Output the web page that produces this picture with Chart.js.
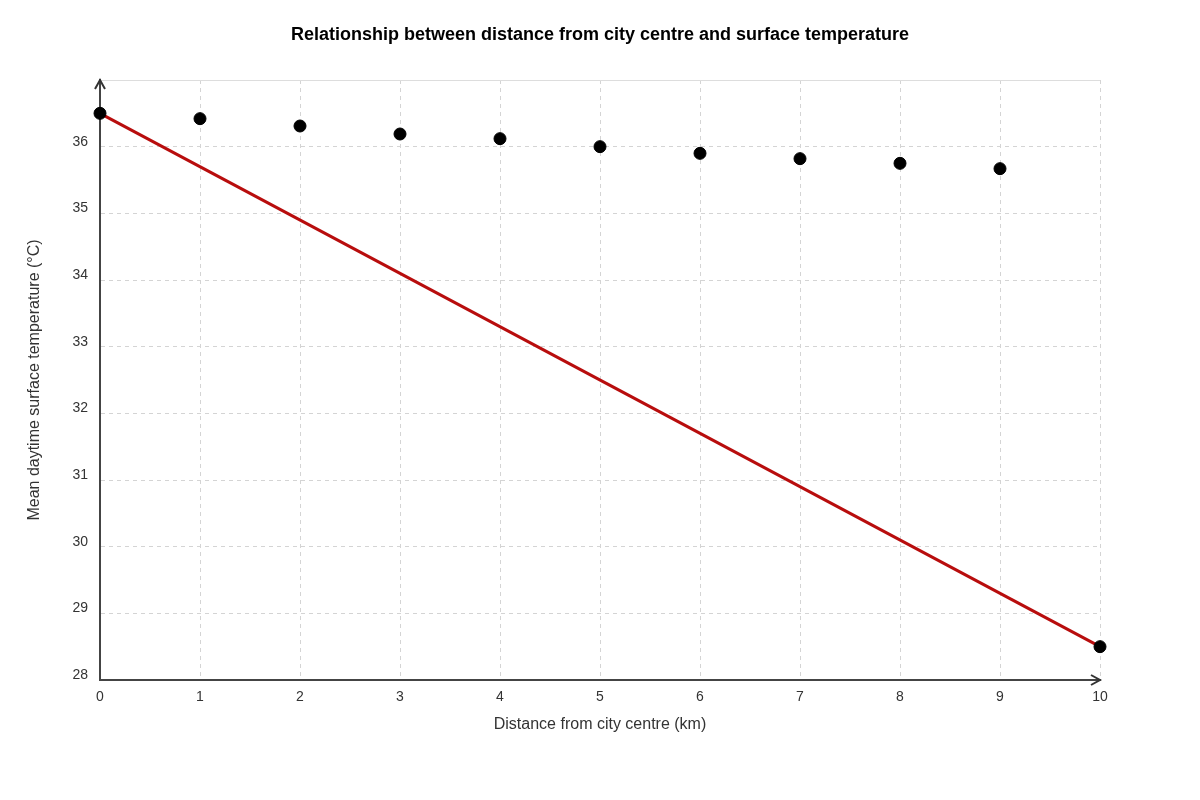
<!DOCTYPE html>
<html>
<head>
<meta charset="utf-8">
<script src="https://cdn.jsdelivr.net/npm/chart.js@4"></script>
<style>
  body { margin: 0; background: #fff; }
  #wrap { width: 1200px; height: 800px; }
</style>
</head>
<body>
<div id="wrap"><canvas id="graf"></canvas></div>
<script>
var distance_km = [0, 1, 2, 3, 4, 5, 6, 7, 8, 9, 10];
var temperature = [36.5, 36.42, 36.31, 36.19, 36.12, 36.0, 35.9, 35.82, 35.75, 35.67, 28.5];
var trend_x = [0, 10];
var trend_y = [36.5, 28.5];

var points = distance_km.map(function (d, i) { return { x: d, y: temperature[i] }; });
var trend = trend_x.map(function (d, i) { return { x: d, y: trend_y[i] }; });

// arrow heads on the axes plus the solid top border
var axisArrows = {
    id: 'axisArrows',
    afterDatasetsDraw: function (chart) {
        var ctx = chart.ctx, a = chart.chartArea;
        ctx.save();
        ctx.strokeStyle = '#dddddd';
        ctx.lineWidth = 1;
        ctx.beginPath();
        ctx.moveTo(a.left, a.top + 0.5);
        ctx.lineTo(a.right, a.top + 0.5);
        ctx.stroke();
        ctx.strokeStyle = '#333';
        ctx.lineWidth = 2;
        ctx.beginPath();
        ctx.moveTo(a.left - 5, a.top + 9);
        ctx.lineTo(a.left, a.top);
        ctx.lineTo(a.left + 5, a.top + 9);
        ctx.moveTo(a.right - 9, a.bottom - 5);
        ctx.lineTo(a.right, a.bottom);
        ctx.lineTo(a.right - 9, a.bottom + 5);
        ctx.stroke();
        ctx.restore();
    }
};

var font = 'Liberation Sans, Arial, sans-serif';

var graf = new Chart(document.getElementById('graf'), {
    type: 'scatter',
    data: {
        datasets: [{
            type: 'line',
            data: trend,
            borderColor: '#b80d0d',
            borderWidth: 3,
            pointRadius: 0,
            fill: false,
            clip: false,
            order: 2
        }, {
            data: points,
            backgroundColor: '#000',
            borderColor: '#000',
            pointRadius: 6,
            pointHoverRadius: 6,
            clip: false,
            order: 1
        }]
    },
    options: {
        responsive: true,
        maintainAspectRatio: false,
        animation: false,
        layout: { padding: { left: 0, right: 0, top: 0, bottom: 62 } },
        plugins: {
            legend: { display: false },
            tooltip: { enabled: false },
            title: {
                display: true,
                text: 'Relationship between distance from city centre and surface temperature',
                color: '#000',
                font: { family: font, size: 18, weight: 'bold' },
                padding: { top: 24, bottom: 34.4 }
            }
        },
        scales: {
            x: {
                type: 'linear',
                min: 0,
                max: 10,
                ticks: {
                    stepSize: 1,
                    color: '#333',
                    padding: 9,
                    font: { family: font, size: 14 }
                },
                grid: { color: '#d4d4d4', lineWidth: 1, drawTicks: false },
                border: { display: true, color: '#444', width: 2, dash: [4, 4] },
                title: {
                    display: true,
                    text: 'Distance from city centre (km)',
                    color: '#333',
                    font: { family: font, size: 16 },
                    padding: { top: 10 }
                },
                afterFit: function (s) { s.height = 58; }
            },
            y: {
                type: 'linear',
                min: 28,
                max: 37,
                ticks: {
                    stepSize: 1,
                    color: '#333',
                    padding: 12,
                    labelOffset: -5,
                    font: { family: font, size: 14 },
                    callback: function (v) { return v === 37 ? '' : v; }
                },
                grid: { color: '#d4d4d4', lineWidth: 1, drawTicks: false },
                border: { display: true, color: '#444', width: 2, dash: [4, 4] },
                title: {
                    display: true,
                    text: 'Mean daytime surface temperature (°C)',
                    color: '#333',
                    font: { family: font, size: 16 },
                    padding: { top: 25 }
                },
                afterFit: function (s) { s.width = 100; }
            },
            yRight: {
                type: 'linear',
                position: 'right',
                min: 28,
                max: 37,
                ticks: { display: false },
                grid: { display: false },
                border: { display: false },
                afterFit: function (s) { s.width = 100; }
            }
        }
    },
    plugins: [axisArrows]
});
</script>
</body>
</html>
